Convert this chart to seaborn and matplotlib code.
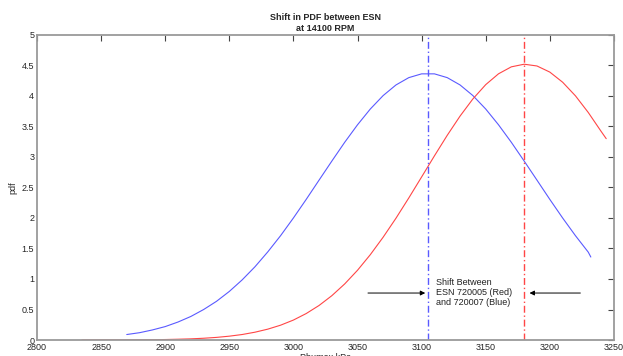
import matplotlib
matplotlib.use("Agg")
import matplotlib.pyplot as plt
import seaborn as sns
import pandas as pd

# ESN 720007 (blue)
blue_x = [2870, 2880, 2890, 2900, 2910, 2920, 2930, 2940, 2950, 2960, 2970, 2980,
          2990, 3000, 3010, 3020, 3030, 3040, 3050, 3060, 3070, 3080, 3090, 3100,
          3110, 3120, 3130, 3140, 3150, 3160, 3170, 3180, 3190, 3200, 3210, 3220,
          3230, 3232]
blue_pdf = [0.09, 0.12, 0.165, 0.22, 0.295, 0.386, 0.5, 0.634, 0.796, 0.985, 1.2, 1.444,
            1.71, 2.0, 2.305, 2.62, 2.933, 3.24, 3.527, 3.786, 4.006, 4.18, 4.3, 4.362,
            4.362, 4.3, 4.18, 4.006, 3.786, 3.527, 3.24, 2.933, 2.62, 2.305, 2.0, 1.71,
            1.44, 1.36]

# ESN 720005 (red)
red_x = [2835, 2850, 2860, 2870, 2880, 2890, 2900, 2910, 2920, 2930, 2940, 2950,
         2960, 2970, 2980, 2990, 3000, 3010, 3020, 3030, 3040, 3050, 3060, 3070,
         3080, 3090, 3100, 3110, 3120, 3130, 3140, 3150, 3160, 3170, 3180, 3190,
         3200, 3210, 3220, 3230, 3240, 3244]
red_pdf = [0.0, 0.001, 0.001, 0.002, 0.003, 0.005, 0.008, 0.013, 0.019, 0.029, 0.043, 0.063,
           0.09, 0.128, 0.178, 0.243, 0.327, 0.434, 0.566, 0.727, 0.919, 1.143, 1.399, 1.685,
           1.996, 2.328, 2.672, 3.018, 3.355, 3.67, 3.951, 4.185, 4.363, 4.477, 4.52, 4.491,
           4.391, 4.225, 4.002, 3.729, 3.42, 3.3]

# peak locations
blue_peak = 3105
red_peak = 3180

x_ticks = [2800, 2850, 2900, 2950, 3000, 3050, 3100, 3150, 3200, 3250]
y_ticks = [0, 0.5, 1, 1.5, 2, 2.5, 3, 3.5, 4, 4.5, 5]

blue_df = pd.DataFrame({"p": blue_x, "pdf": blue_pdf})
red_df = pd.DataFrame({"p": red_x, "pdf": red_pdf})

sns.set_style("white")
plt.rcParams["font.family"] = ["Liberation Sans", "DejaVu Sans"]

fig = plt.figure(figsize=(6.23, 3.56), dpi=100)
ax = fig.add_axes([0.0594, 0.0449, 0.926, 0.857])

sns.lineplot(data=blue_df, x="p", y="pdf", color="#5a5aff", linewidth=0.8, ax=ax)
sns.lineplot(data=red_df, x="p", y="pdf", color="#ff4646", linewidth=0.8, ax=ax)

ax.axvline(blue_peak, color="#5a5aff", linestyle=(0, (5, 2, 1, 2)), linewidth=1.0)
ax.axvline(red_peak, color="#ff4646", linestyle=(0, (5, 2, 1, 2)), linewidth=1.0)

arrow = dict(arrowstyle="-|>", color="black", lw=0.7, mutation_scale=7)
ax.annotate("", xy=(blue_peak, 0.77), xytext=(3056, 0.77), arrowprops=arrow)
ax.annotate("", xy=(red_peak + 2, 0.77), xytext=(3226, 0.77), arrowprops=arrow)
ax.text(3111, 0.78, "Shift Between\nESN 720005 (Red)\nand 720007 (Blue)",
        fontsize=6.5, color="#222222", va="center", ha="left", linespacing=1.2)

ax.set_xlim(2800, 3250)
ax.set_ylim(0, 5)
ax.set_xticks(x_ticks)
ax.set_yticks(y_ticks)
ax.set_xticklabels([str(t) for t in x_ticks])
ax.set_yticklabels([f"{t:g}" for t in y_ticks])
ax.tick_params(direction="in", length=4, width=0.8, color="#444444",
               labelsize=6.5, top=True, right=True, pad=2)

for s in ax.spines.values():
    s.set_color("#9a9a9a")
    s.set_linewidth(1.3)

ax.set_title("Shift in PDF between ESN\nat 14100 RPM", fontsize=6.5,
             fontweight="bold", pad=3, linespacing=1.2)
ax.set_xlabel("Pbumax kPa", fontsize=6.5, labelpad=1)
ax.set_ylabel("pdf", fontsize=6.5, labelpad=3)

fig.savefig("out.png", dpi=100)
